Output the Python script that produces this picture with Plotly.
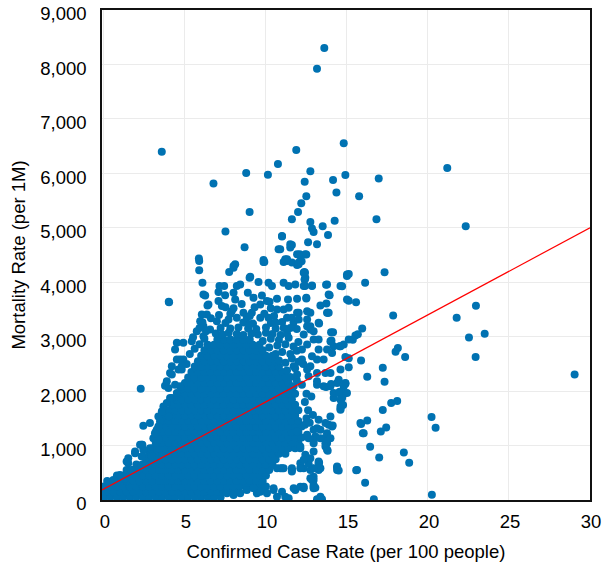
import plotly.graph_objects as go

# ---- data (rate per 100 people, mortality per 1M) ----
# dense core of the cloud: one mortality level per row, with the case rates seen in that row
core_mortality = [50, 150, 250, 350, 450, 550, 650, 750, 850, 950, 1050, 1150, 1250, 1350, 1450,
                  1550, 1650, 1750, 1850, 1950, 2050, 2150, 2250, 2350, 2450, 2550, 2650, 2750, 2850, 2950]
core_rates = [
    [0.0, 0.4, 0.8, 1.2, 1.6, 2.0, 2.4, 2.8, 3.2, 3.6, 4.0, 4.4, 4.8, 5.2, 5.6, 6.0, 6.4, 6.8, 7.2],
    [0.0, 0.2, 0.6, 1.0, 1.4, 1.8, 2.2, 2.6, 3.0, 3.4, 3.8, 4.2, 4.6, 5.0, 5.4, 5.8, 6.2, 6.6, 7.0, 7.4, 7.8, 8.2],
    [0.0, 0.4, 0.8, 1.2, 1.6, 2.0, 2.4, 2.8, 3.2, 3.6, 4.0, 4.4, 4.8, 5.2, 5.6, 6.0, 6.4, 6.8, 7.2, 7.6, 8.0, 8.4, 8.8, 9.2, 9.6, 10.0],
    [0.2, 0.6, 1.0, 1.4, 1.8, 2.2, 2.6, 3.0, 3.4, 3.8, 4.2, 4.6, 5.0, 5.4, 5.8, 6.2, 6.6, 7.0, 7.4, 7.8, 8.2, 8.6, 9.0, 9.4, 9.8],
    [0.8, 1.2, 1.6, 2.0, 2.4, 2.8, 3.2, 3.6, 4.0, 4.4, 4.8, 5.2, 5.6, 6.0, 6.4, 6.8, 7.2, 7.6, 8.0, 8.4, 8.8, 9.2, 9.6, 10.0],
    [1.4, 1.8, 2.2, 2.6, 3.0, 3.4, 3.8, 4.2, 4.6, 5.0, 5.4, 5.8, 6.2, 6.6, 7.0, 7.4, 7.8, 8.2, 8.6, 9.0, 9.4, 9.8, 10.2],
    [2.0, 2.4, 2.8, 3.2, 3.6, 4.0, 4.4, 4.8, 5.2, 5.6, 6.0, 6.4, 6.8, 7.2, 7.6, 8.0, 8.4, 8.8, 9.2, 9.6, 10.0, 10.4],
    [2.6, 3.0, 3.4, 3.8, 4.2, 4.6, 5.0, 5.4, 5.8, 6.2, 6.6, 7.0, 7.4, 7.8, 8.2, 8.6, 9.0, 9.4, 9.8, 10.2, 10.6],
    [2.8, 3.2, 3.6, 4.0, 4.4, 4.8, 5.2, 5.6, 6.0, 6.4, 6.8, 7.2, 7.6, 8.0, 8.4, 8.8, 9.2, 9.6, 10.0, 10.4, 10.8, 11.2],
    [3.0, 3.4, 3.8, 4.2, 4.6, 5.0, 5.4, 5.8, 6.2, 6.6, 7.0, 7.4, 7.8, 8.2, 8.6, 9.0, 9.4, 9.8, 10.2, 10.6, 11.0, 11.4, 11.8],
    [3.2, 3.6, 4.0, 4.4, 4.8, 5.2, 5.6, 6.0, 6.4, 6.8, 7.2, 7.6, 8.0, 8.4, 8.8, 9.2, 9.6, 10.0, 10.4, 10.8, 11.2, 11.6, 12.0],
    [3.4, 3.8, 4.2, 4.6, 5.0, 5.4, 5.8, 6.2, 6.6, 7.0, 7.4, 7.8, 8.2, 8.6, 9.0, 9.4, 9.8, 10.2, 10.6, 11.0, 11.4, 11.8, 12.2],
    [3.2, 3.6, 4.0, 4.4, 4.8, 5.2, 5.6, 6.0, 6.4, 6.8, 7.2, 7.6, 8.0, 8.4, 8.8, 9.2, 9.6, 10.0, 10.4, 10.8, 11.2, 11.6, 12.0],
    [3.4, 3.8, 4.2, 4.6, 5.0, 5.4, 5.8, 6.2, 6.6, 7.0, 7.4, 7.8, 8.2, 8.6, 9.0, 9.4, 9.8, 10.2, 10.6, 11.0, 11.4, 11.8, 12.2],
    [3.6, 4.0, 4.4, 4.8, 5.2, 5.6, 6.0, 6.4, 6.8, 7.2, 7.6, 8.0, 8.4, 8.8, 9.2, 9.6, 10.0, 10.4, 10.8, 11.2, 11.6, 12.0],
    [3.8, 4.2, 4.6, 5.0, 5.4, 5.8, 6.2, 6.6, 7.0, 7.4, 7.8, 8.2, 8.6, 9.0, 9.4, 9.8, 10.2, 10.6, 11.0, 11.4, 11.8],
    [4.0, 4.4, 4.8, 5.2, 5.6, 6.0, 6.4, 6.8, 7.2, 7.6, 8.0, 8.4, 8.8, 9.2, 9.6, 10.0, 10.4, 10.8, 11.2, 11.6, 12.0],
    [4.2, 4.6, 5.0, 5.4, 5.8, 6.2, 6.6, 7.0, 7.4, 7.8, 8.2, 8.6, 9.0, 9.4, 9.8, 10.2, 10.6, 11.0, 11.4, 11.8],
    [4.4, 4.8, 5.2, 5.6, 6.0, 6.4, 6.8, 7.2, 7.6, 8.0, 8.4, 8.8, 9.2, 9.6, 10.0, 10.4, 10.8, 11.2, 11.6],
    [4.6, 5.0, 5.4, 5.8, 6.2, 6.6, 7.0, 7.4, 7.8, 8.2, 8.6, 9.0, 9.4, 9.8, 10.2, 10.6, 11.0, 11.4, 11.8],
    [4.8, 5.2, 5.6, 6.0, 6.4, 6.8, 7.2, 7.6, 8.0, 8.4, 8.8, 9.2, 9.6, 10.0, 10.4, 10.8, 11.2, 11.6],
    [5.0, 5.4, 5.8, 6.2, 6.6, 7.0, 7.4, 7.8, 8.2, 8.6, 9.0, 9.4, 9.8, 10.2, 10.6, 11.0, 11.4],
    [5.2, 5.6, 6.0, 6.4, 6.8, 7.2, 7.6, 8.0, 8.4, 8.8, 9.2, 9.6, 10.0, 10.4, 10.8, 11.2],
    [5.4, 5.8, 6.2, 6.6, 7.0, 7.4, 7.8, 8.2, 8.6, 9.0, 9.4, 9.8, 10.2, 10.6, 11.0],
    [5.6, 6.0, 6.4, 6.8, 7.2, 7.6, 8.0, 8.4, 8.8, 9.2, 9.6, 10.0, 10.4, 10.8],
    [5.8, 6.2, 6.6, 7.0, 7.4, 7.8, 8.2, 8.6, 9.0, 9.4, 9.8, 10.2, 10.6],
    [6.0, 6.4, 6.8, 7.2, 7.6, 8.0, 8.4, 8.8, 9.2, 9.6, 10.0, 10.4],
    [6.2, 6.6, 7.0, 7.4, 7.8, 8.2, 8.6, 9.0, 9.4, 9.8],
    [6.4, 6.8, 7.2, 7.6, 8.0, 8.4, 8.8, 9.2, 9.6],
    [7.0, 7.4, 7.8, 8.2, 8.6, 9.0],
]

# counties above the dense core (upper part of the cloud)
upper_points = [
    (6.9, 3060), (7.3, 3040), (7.7, 3070), (8.2, 3050), (8.6, 3030), (9.1, 3060), (9.5, 3040),
    (10.0, 3070), (10.4, 3050), (10.9, 3030), (11.3, 3060),
    (7.2, 3160), (7.8, 3150), (8.3, 3170), (8.9, 3150), (9.4, 3140), (10.0, 3170), (10.6, 3150), (11.1, 3160),
    (7.5, 3250), (8.6, 3260), (9.2, 3240), (10.3, 3250), (11.0, 3270),
    (5.88, 4390), (5.88, 4218), (6.08, 3991), (6.14, 3776), (4.02, 3634), (7.73, 4187), (8.0, 4298),
    (9.03, 4102), (9.9, 4371), (11.09, 4371), (11.3, 4390), (11.92, 4316), (12.37, 4187), (12.43, 4083),
    (7.13, 3929), (7.42, 3929), (8.2, 3929), (8.41, 3960), (9.54, 4003), (10.16, 3991), (10.37, 3929),
    (11.09, 3991), (11.4, 3929), (11.81, 3960), (12.33, 3929), (12.84, 3942),
    (7.07, 3819), (7.48, 3763), (8.0, 3807), (8.88, 3807), (9.23, 3715), (9.75, 3758), (10.22, 3641),
    (10.68, 3697), (11.36, 3684), (11.92, 3697), (12.49, 3715), (7.07, 3653), (7.28, 3561), (6.45, 3592),
    (8.1, 3684), (6.35, 3408), (6.04, 3408), (7.89, 3469), (8.61, 3439), (9.13, 3439), (9.65, 3592),
    (10.06, 3653), (10.68, 3500), (11.09, 3500), (11.4, 3531), (11.92, 3439), (12.54, 3469), (12.74, 3439),
    (5.94, 3284), (6.14, 3192), (5.42, 2916), (4.9, 2886), (4.5, 2886), (4.39, 2763), (4.5, 2579),
    (4.9, 2579), (4.8, 2395), (4.19, 2456), (4.08, 2334), (3.77, 2100), (6.14, 3008), (5.73, 3100),
    (6.55, 3131), (6.97, 3284), (7.69, 3316), (8.2, 3347), (8.82, 3347), (9.65, 3347), (10.16, 3347),
    (11.3, 3347), (12.02, 3439), (12.54, 3316), (12.74, 3192), (12.33, 3039),
    (8.1, 4329), (8.0, 4268), (9.85, 4371), (11.19, 4390), (11.6, 4360), (12.12, 4482), (12.43, 4513),
    (12.02, 4329), (12.33, 4176), (4.0, 3642), (6.25, 3758), (6.39, 3573), (6.08, 3266), (8.99, 4083),
    (10.99, 4850), (11.5, 4697), (10.78, 4605), (11.19, 4421), (11.92, 4513), (12.02, 4360), (12.39, 4052),
    (6.6, 3340), (7.1, 3400), (7.8, 3420), (9.0, 3380), (9.9, 3420), (10.5, 3380), (11.7, 3260),
    (11.9, 3140), (6.3, 3100), (5.9, 3160), (8.0, 3520), (9.3, 3540), (10.3, 3520), (7.5, 3540),
    (8.5, 3600), (9.0, 3230), (10.6, 3260), (11.5, 3160),
]

# counties filling the upper shoulders of the dense core
shoulder_points = [
    (10.8, 2560), (11.2, 2520), (11.6, 2600), (12.0, 2540), (10.6, 2680), (11.0, 2720), (11.5, 2680),
    (11.9, 2740), (10.2, 2800), (10.7, 2840), (11.2, 2860), (11.7, 2820), (9.8, 2920), (10.3, 2960),
    (10.8, 2940), (11.4, 2980), (12.0, 2900), (11.5, 2260), (11.9, 2200), (11.3, 2380), (11.8, 2420),
    (12.3, 2500), (5.3, 2680), (5.6, 2780), (5.9, 2860), (6.2, 2960), (5.1, 2500), (5.5, 2990),
]

# counties along the left edge of the cloud
left_points = [
    (0.58, 368), (1.09, 430), (1.81, 553), (1.5, 676), (1.5, 768), (1.92, 890), (2.37, 1013), (2.43, 798),
    (2.84, 952), (2.43, 1363), (3.26, 1289), (3.46, 1443), (3.67, 1719), (3.98, 1535), (2.27, 2045),
    (4.19, 1873), (4.5, 1965), (4.7, 2088), (4.19, 2303), (4.6, 2395), (4.8, 2456), (4.7, 2579),
    (1.4, 706), (2.23, 1013), (2.43, 921), (2.95, 829), (3.15, 768), (2.23, 584), (2.54, 645), (0.99, 460),
    (1.3, 400), (3.36, 1351), (3.05, 1136), (3.36, 1105), (3.15, 1228), (2.84, 1413), (3.36, 1535),
    (3.57, 1627), (3.88, 1781), (4.08, 1873), (3.98, 2057), (4.39, 2118), (3.88, 2179), (2.33, 1013),
    (1.92, 860), (2.33, 798), (2.95, 798), (2.33, 645), (1.71, 553),
]

# counties along the right edge of the cloud (rates about 10 to 15)
right_points = [
    (12.2, 4384), (12.41, 4176), (12.39, 4052), (12.41, 3929), (12.84, 3929), (13.71, 3955), (14.7, 3924),
    (12.49, 3702), (13.93, 3763), (13.36, 3573), (13.73, 3610), (13.81, 3439), (14.02, 3082), (14.02, 2905),
    (14.55, 2824), (14.9, 2142), (14.76, 1744), (14.6, 1676), (14.08, 1350), (14.39, 595), (14.49, 540),
    (13.05, 227), (12.84, 368), (12.94, 429), (13.28, 682), (12.33, 584), (12.86, 577), (13.81, 903),
    (13.67, 982), (13.77, 1044), (13.67, 1142), (13.05, 1166), (12.94, 1087), (14.12, 1369), (13.87, 1382),
    (14.8, 1947), (14.55, 1989), (14.18, 1873), (14.02, 2131), (13.71, 2076), (13.15, 2118), (13.98, 2334),
    (13.67, 2334), (15.11, 2603), (14.9, 2628), (13.28, 3242), (12.74, 3144), (12.94, 2947), (13.15, 13),
    (13.46, 13), (15.0, 4114), (14.6, 3929), (15.0, 3684), (13.77, 3960), (13.87, 3776), (13.87, 3439),
    (13.98, 2916), (13.77, 2763), (13.25, 3255), (12.74, 3131), (14.6, 2824), (14.18, 2824), (14.6, 2395),
    (14.49, 2210), (14.9, 2150), (15.0, 1965), (14.6, 1842), (14.6, 1719), (14.18, 1965), (13.98, 1535),
    (13.67, 1413), (13.77, 1228), (13.25, 1474), (13.36, 1289), (13.77, 921), (13.25, 676), (13.25, 553),
    (12.74, 553), (12.63, 676), (10.88, 584), (11.6, 584), (12.12, 676), (11.81, 184), (12.33, 245),
    (12.94, 368), (10.47, 184), (9.85, 215), (9.44, 123), (11.4, 31), (10.68, 61),
    (7.59, 123), (8.0, 92), (8.41, 123), (8.82, 184), (9.23, 215), (9.65, 153), (10.06, 123), (10.47, 215),
    (10.99, 153), (11.19, 61), (11.71, 215), (12.12, 245), (12.94, 215), (13.36, 61), (10.68, 584),
    (11.09, 584), (11.6, 522), (12.12, 584), (12.74, 400), (12.94, 276), (13.25, 706), (13.36, 584),
    (12.12, 952), (12.43, 829), (12.74, 768), (12.94, 1044), (13.36, 1136), (13.77, 1074), (11.92, 1258),
    (12.54, 1197), (13.15, 1320), (13.98, 2088), (14.9, 2137), (14.49, 1965), (14.7, 1873), (14.7, 1750),
    (14.6, 1658), (13.98, 1136), (13.67, 1044), (12.94, 890), (12.63, 1136), (12.94, 1289), (12.12, 982),
    (12.33, 737), (12.94, 584), (11.6, 553), (10.99, 584), (12.94, 245), (12.33, 215), (14.39, 614),
    (14.39, 553), (11.6, 3347), (12.02, 3316), (12.54, 3192), (12.94, 3100), (13.25, 2947), (12.54, 2855),
    (12.22, 2763), (12.84, 2640), (12.22, 2579), (12.54, 2395), (11.71, 2456), (11.92, 2303), (12.63, 2271),
    (13.15, 2179), (12.22, 2118), (11.71, 2088), (14.14, 3082), (13.77, 3439), (14.8, 2855), (15.11, 2947),
    (14.04, 2929), (13.25, 2763), (14.08, 2702), (13.56, 2579), (13.15, 2579), (12.74, 2456), (13.15, 2334),
    (14.39, 2150), (14.8, 2088), (13.56, 2088), (12.5, 1500), (12.6, 1650), (12.4, 1800), (12.8, 1900),
    (12.5, 1950), (12.9, 1560), (12.4, 1380), (12.7, 1420),
]

# isolated counties (high mortality or high case rate)
outlier_points = [
    (13.6, 8302), (13.15, 7920), (3.57, 6397), (14.8, 6552), (11.87, 6428), (10.74, 6170), (8.78, 6005),
    (10.12, 5974), (6.76, 5815), (12.74, 6036), (12.39, 5845), (14.9, 5968), (14.14, 5876), (16.96, 5907),
    (14.35, 5650), (15.75, 5581), (12.49, 5581), (12.18, 5452), (8.99, 5292), (11.98, 5292), (11.6, 5158),
    (16.82, 5158), (12.74, 5108), (14.24, 5127), (12.84, 4986), (12.94, 4924), (13.5, 5029), (7.5, 4931),
    (10.99, 4839), (13.83, 4869), (12.6, 4734), (13.15, 4697), (8.68, 4642), (11.6, 4684), (11.5, 4636),
    (10.88, 4605), (12.08, 4513), (12.49, 4507), (5.86, 4434), (9.85, 4408), (11.3, 4421),
    (21.19, 6097), (22.33, 5029), (22.96, 3567), (21.77, 3347), (22.53, 2984), (23.5, 3052), (22.94, 2628),
    (29.05, 2303), (17.85, 3389), (15.94, 3150), (15.52, 3021), (15.67, 3045), (15.36, 2942), (18.14, 2794),
    (18.0, 2721), (18.59, 2628), (15.87, 2560), (15.11, 2437), (17.21, 2431), (16.25, 2266), (17.32, 2174),
    (18.1, 1818), (17.73, 1781), (17.21, 1652), (20.22, 1523), (20.47, 1326), (16.25, 1461), (15.87, 1394),
    (15.98, 1228), (17.42, 1332), (17.09, 1258), (16.43, 976), (18.51, 871), (18.84, 682), (16.99, 779),
    (15.57, 547), (16.12, 319), (20.24, 98), (16.66, 13), (15.62, 553), (15.83, 1413), (16.03, 1228),
    (17.32, 4181), (16.12, 3991), (15.11, 4150), (15.11, 3660), (15.56, 3634), (15.0, 4144),
]

# fitted trend line, read at the two ends of the plot
fit_rates = [-0.12, 30.0]
fit_mortality = [186, 5000]

x_ticks = [0, 5, 10, 15, 20, 25, 30]
y_ticks = [0, 1000, 2000, 3000, 4000, 5000, 6000, 7000, 8000, 9000]

# ---- build flat series ----
rates, mortality = [], []
for m, row in zip(core_mortality, core_rates):
    for r in row:
        rates.append(r)
        mortality.append(m)
for group in (upper_points, shoulder_points, left_points, right_points, outlier_points):
    for r, m in group:
        rates.append(r)
        mortality.append(m)

BLUE = "#0072B2"
fig = go.Figure()
fig.add_trace(go.Scatter(
    x=rates, y=mortality, mode="markers",
    marker=dict(size=8, color=BLUE, line=dict(width=0)),
    hoverinfo="skip", showlegend=False,
))
fig.add_trace(go.Scatter(
    x=fit_rates, y=fit_mortality, mode="lines",
    line=dict(color="#ff0000", width=1.2), hoverinfo="skip", showlegend=False,
))

axis_common = dict(
    showgrid=True, gridcolor="#ebebeb", gridwidth=1,
    showline=True, mirror=True, linecolor="#111111", linewidth=1.5,
    zeroline=False, ticks="", tickfont=dict(size=18.5, color="black"),
    automargin=False, ticklabeloverflow="allow",
)
fig.update_xaxes(range=[-0.12, 30], tickvals=x_ticks, ticklabelstandoff=4, ticklabelshift=1,
                 title=dict(text="Confirmed Case Rate (per 100 people)", font=dict(size=18.5), standoff=14),
                 **axis_common)
fig.update_yaxes(range=[0, 9000], tickvals=y_ticks, tickformat=",", ticklabelstandoff=10, ticklabelshift=4,
                 title=dict(text="Mortality Rate (per 1M)", font=dict(size=18.5), standoff=10),
                 **axis_common)
fig.update_layout(
    width=602, height=565,
    margin=dict(l=102, r=12, t=10, b=65, autoexpand=False),
    plot_bgcolor="white", paper_bgcolor="white",
    font=dict(family="Liberation Sans, Arial, Helvetica, sans-serif", color="black"),
    showlegend=False,
)
# remove the browser's default 8 px page margin so the figure fills the window exactly
fig.write_html("out.html", config={"displayModeBar": False},
               post_script="document.body.style.margin='0';document.body.style.overflow='hidden';")
